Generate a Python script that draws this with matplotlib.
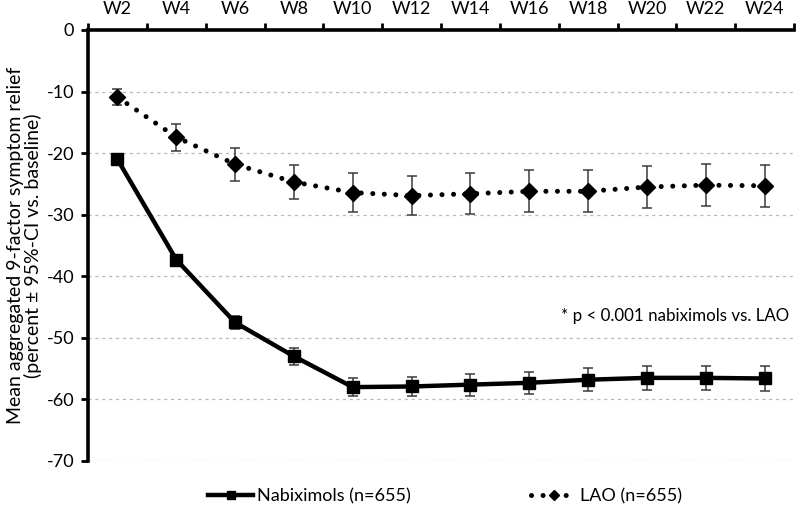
import matplotlib
matplotlib.use("Agg")
import matplotlib.pyplot as plt
import numpy as np

plt.rcParams['font.family'] = ['Lato', 'DejaVu Sans']

weeks = ["W2", "W4", "W6", "W8", "W10", "W12", "W14", "W16", "W18", "W20", "W22", "W24"]
nabiximols = [-21.0, -37.3, -47.5, -53.0, -58.0, -57.9, -57.6, -57.3, -56.8, -56.5, -56.5, -56.6]
nabiximols_ci = [0.4, 0.6, 1.1, 1.35, 1.4, 1.6, 1.8, 1.8, 1.9, 2.0, 2.0, 2.0]
lao = [-10.9, -17.4, -21.8, -24.7, -26.4, -26.9, -26.6, -26.2, -26.2, -25.5, -25.2, -25.3]
lao_ci = [1.3, 2.2, 2.7, 2.8, 3.2, 3.2, 3.3, 3.4, 3.4, 3.4, 3.4, 3.4]
yticks = [0, -10, -20, -30, -40, -50, -60, -70]

fig = plt.figure(figsize=(8, 5.16), dpi=100)
ax = fig.add_axes([0.11, 0.1066, 0.8825, 0.8353])
x = np.arange(len(weeks))

# grid
for yv in yticks[1:]:
    ax.axhline(yv, color="#b8b8b8", lw=0.9, ls=(0, (2.5, 3)), zorder=0)

# error bars
ax.errorbar(x, lao, yerr=lao_ci, fmt="none", ecolor="#3a3a3a", elinewidth=1.1, capsize=3.5, capthick=1.1, zorder=2)
ax.errorbar(x, nabiximols, yerr=nabiximols_ci, fmt="none", ecolor="#3a3a3a", elinewidth=1.1, capsize=3.5, capthick=1.1, zorder=2)

l1, = ax.plot(x, nabiximols, color="black", lw=3.2, marker="s", ms=8.5, zorder=3,
              label="Nabiximols (n=655)")
l2, = ax.plot(x, lao, color="black", lw=3.6, ls=(0, (0.01, 2.3)), dash_capstyle="round",
              marker="D", ms=8, zorder=3, label="LAO (n=655)")

ax.set_xlim(-0.5, 11.5)
ax.set_ylim(-70, 0)

# x axis on top
ax.xaxis.set_ticks_position("top")
ax.xaxis.set_label_position("top")
ax.set_xticks(x)
ax.set_xticklabels(weeks, fontsize=13)
ax.set_xticks(np.arange(-0.5, 12, 1), minor=True)
ax.tick_params(axis="x", which="major", length=0, pad=9)
ax.tick_params(axis="x", which="minor", length=5, width=2, direction="out")

ax.set_yticks(yticks)
ax.set_yticklabels([str(v) for v in yticks], fontsize=13)
ax.tick_params(axis="y", length=5, width=2, direction="out", pad=5)

for s in ["right", "bottom"]:
    ax.spines[s].set_visible(False)
ax.spines["left"].set_linewidth(2.6)
ax.spines["top"].set_linewidth(2.6)

ax.set_ylabel("Mean aggregated 9-factor symptom relief\n(percent ± 95%-CI vs. baseline)",
              fontsize=14, labelpad=3, linespacing=1.0)

ax.text(11.42, -46.5, "* p < 0.001 nabiximols vs. LAO", ha="right", va="center", fontsize=12.2)

fig.legend(handles=[l1, l2], loc="center left", bbox_to_anchor=(0.26, 0.039), ncol=2,
           frameon=False, fontsize=13, columnspacing=6.7, handlelength=2.5,
           handletextpad=0.2, markerscale=0.7, borderpad=0, borderaxespad=0)

fig.savefig("out.png", dpi=100)
